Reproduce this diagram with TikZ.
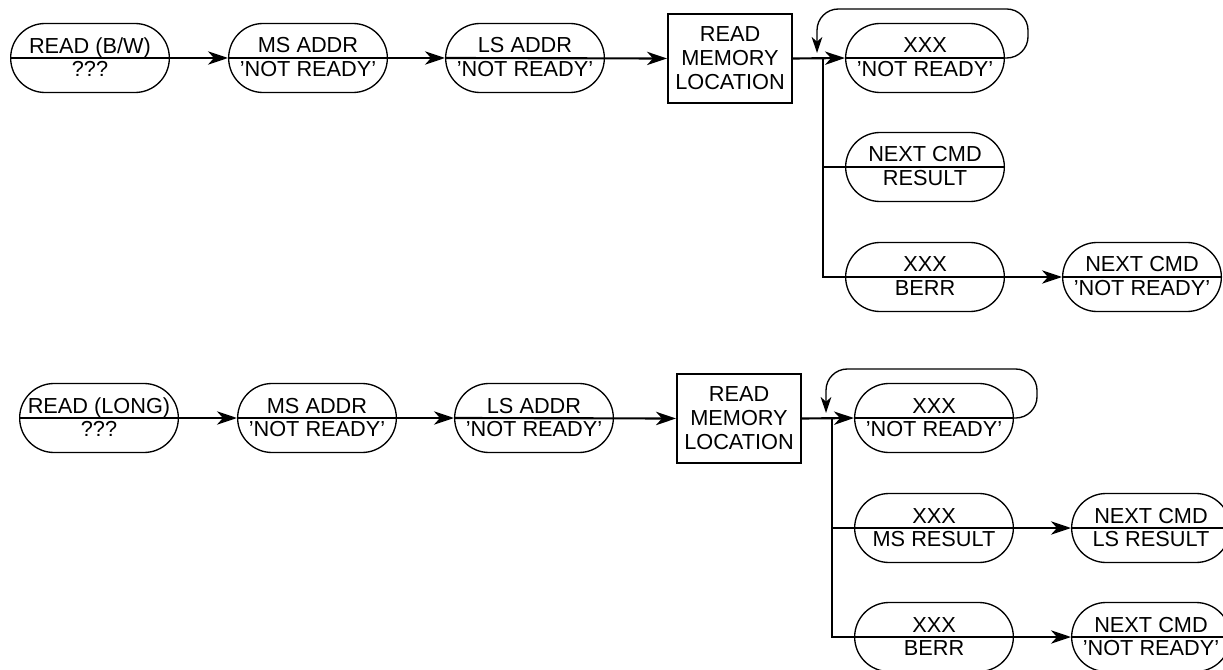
\documentclass[tikz,border=0pt]{standalone}
\usepackage{fontspec}
\setmainfont{Liberation Sans}
\usetikzlibrary{arrows.meta, positioning}
\newcommand{\pilltext}[2]{\rule[-1.5pt]{0pt}{13pt}#1\\\rule[-1.5pt]{0pt}{13pt}#2}
\tikzset{
  every picture/.style={font=\fontsize{16.3}{17.5}\selectfont},
  pill/.style={draw, line width=1pt, rounded corners=25.8pt, minimum width=119pt, minimum height=51.75pt, align=center, inner sep=0pt},
  box/.style={draw, line width=1.5pt, minimum width=93pt, minimum height=66.75pt, align=center, inner sep=0pt, font=\fontsize{16.3}{18}\selectfont},
  arrow/.style={-{Stealth[length=15pt, width=10pt, inset=4.5pt]}, line width=1.6pt},
  flow/.style={line width=1.6pt},
  loopback/.style={-{Stealth[length=12pt, width=8pt, inset=3.5pt]}, line width=1pt, rounded corners=16pt},
}

\begin{document}
\begin{tikzpicture}[x=0.75pt, y=-0.75pt]
  \useasboundingbox (0,0) rectangle (1223,670);
  % byte / word read
  \begin{scope}
    \node[pill] (rd1) at (90,58) {\pilltext{READ (B/W)}{???}};
    \node[pill] (ms1) at (308,58) {\pilltext{MS ADDR}{'NOT READY'}};
    \node[pill] (ls1) at (525,58) {\pilltext{LS ADDR}{'NOT READY'}};
    \node[box] (mem1) at (730,58.5) {READ\\MEMORY\\LOCATION};
    \node[pill] (xxx1) at (925,58) {\pilltext{XXX}{'NOT READY'}};
    \node[pill] (res1) at (925,167) {\pilltext{NEXT CMD}{RESULT}};
    \node[pill] (berr1) at (925,277) {\pilltext{XXX}{BERR}};
    \node[pill] (nxt1) at (1142,277) {\pilltext{NEXT CMD}{'NOT READY'}};
    \coordinate (br1) at (823,58);
    \coordinate (lpR1) at (1028,9);
    \coordinate (lpL1) at (817,9);
    \coordinate (lpE1) at (817,53);
    \draw[arrow] (rd1.west) -- (ms1.west);
    \draw[arrow] (ms1.west) -- (ls1.west);
    \draw[arrow] (ls1.west) -- (mem1.west);
    \draw[arrow] (mem1.east) -- (xxx1.west);
    \draw[flow] (xxx1.west) -- (xxx1.east);
    \draw[loopback] (xxx1.east) -| (lpR1) -- (lpL1) -- (lpE1);
    \draw[flow] (br1) |- (res1.east);
    \draw[arrow] (br1) |- (nxt1.west);
    \draw[flow] (nxt1.west) -- (nxt1.east);
  \end{scope}
  % long read
  \begin{scope}[shift={(9,360)}]
    \node[pill] (rd2) at (90,58) {\pilltext{READ (LONG)}{???}};
    \node[pill] (ms2) at (308,58) {\pilltext{MS ADDR}{'NOT READY'}};
    \node[pill] (ls2) at (525,58) {\pilltext{LS ADDR}{'NOT READY'}};
    \node[box] (mem2) at (730,58.5) {READ\\MEMORY\\LOCATION};
    \node[pill] (xxx2) at (925,58) {\pilltext{XXX}{'NOT READY'}};
    \node[pill] (msr2) at (925,168) {\pilltext{XXX}{MS RESULT}};
    \node[pill] (lsr2) at (1142,168) {\pilltext{NEXT CMD}{LS RESULT}};
    \node[pill] (berr2) at (925,277) {\pilltext{XXX}{BERR}};
    \node[pill] (nxt2) at (1142,277) {\pilltext{NEXT CMD}{'NOT READY'}};
    \coordinate (br2) at (823,58);
    \coordinate (lpR2) at (1028,9);
    \coordinate (lpL2) at (817,9);
    \coordinate (lpE2) at (817,53);
    \draw[arrow] (rd2.west) -- (ms2.west);
    \draw[arrow] (ms2.west) -- (ls2.west);
    \draw[arrow] (ls2.west) -- (mem2.west);
    \draw[arrow] (mem2.east) -- (xxx2.west);
    \draw[flow] (xxx2.west) -- (xxx2.east);
    \draw[loopback] (xxx2.east) -| (lpR2) -- (lpL2) -- (lpE2);
    \draw[arrow] (br2) |- (lsr2.west);
    \draw[flow] (lsr2.west) -- (lsr2.east);
    \draw[arrow] (br2) |- (nxt2.west);
    \draw[flow] (nxt2.west) -- (nxt2.east);
  \end{scope}
\end{tikzpicture}
\end{document}
